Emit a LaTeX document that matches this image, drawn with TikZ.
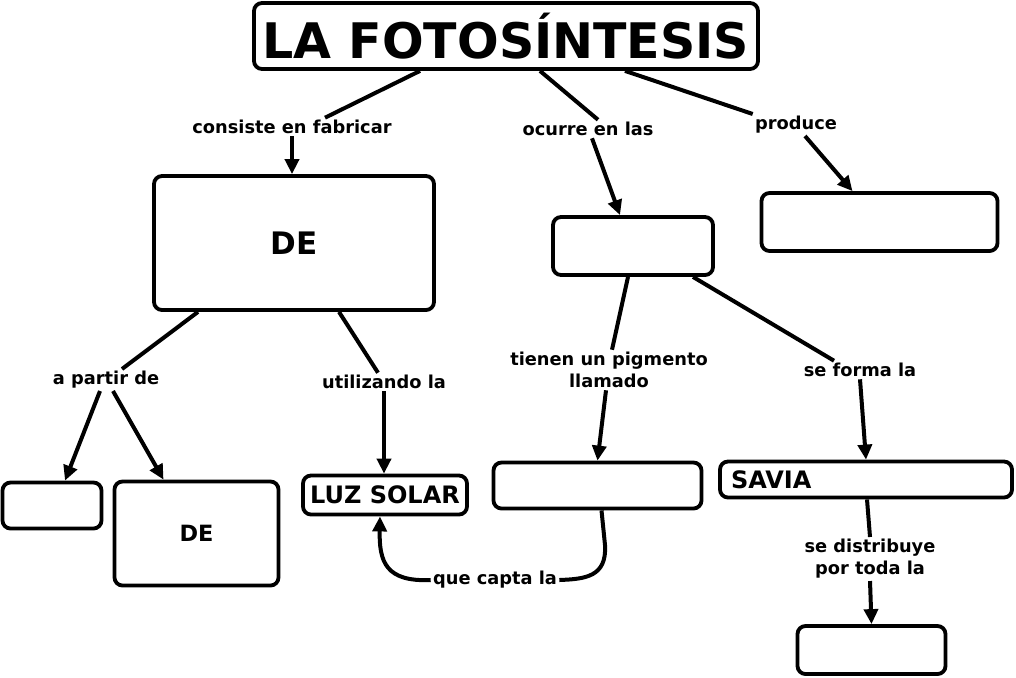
\documentclass[tikz,border=0pt]{standalone}
\usepackage{fontspec}
\setmainfont{DejaVu Sans}
\usetikzlibrary{arrows.meta,calc}

\begin{document}
\begin{tikzpicture}[x=0.5pt,y=-0.5pt,
  caja/.style={draw,line width=1.9pt,rounded corners=4pt,inner sep=0pt,font=\bfseries\fontsize{12}{14}\selectfont},
  enlace/.style={font=\bfseries\fontsize{8.9}{11}\selectfont,inner sep=1pt,align=center},
  linea/.style={line width=2pt},
  flecha/.style={line width=2pt,-{Triangle[length=7.5pt,width=7pt]}}]
\useasboundingbox (0,0) rectangle (1016,677);
% conceptos
\node[caja,minimum width=252pt,minimum height=33pt,font=\bfseries\fontsize{24.5}{28}\selectfont] (titulo) at (506,36) {LA FOTOSÍNTESIS};
\node[caja,minimum width=140pt,minimum height=67pt,font=\bfseries\fontsize{15.5}{18}\selectfont] (de1) at (294,243) {DE};
\node[caja,minimum width=80pt,minimum height=29pt] (hojas) at (633,246) {};
\node[caja,minimum width=118pt,minimum height=29pt] (produce) at (879.5,222) {};
\node[caja,minimum width=49.5pt,minimum height=23pt] (agua) at (52,505.5) {};
\node[caja,minimum width=82pt,minimum height=52pt,font=\bfseries\fontsize{11.2}{13}\selectfont] (de2) at (196.5,533.5) {DE};
\node[caja,minimum width=82pt,minimum height=19.5pt] (luz) at (385,495) {LUZ SOLAR};
\node[caja,minimum width=104pt,minimum height=23pt] (pigmento) at (597.5,485.5) {};
\node[caja,minimum width=146pt,minimum height=18pt,text width=135pt,inner xsep=5.5pt,align=left] (savia) at (866,479.5) {SAVIA};
\node[caja,minimum width=74pt,minimum height=24pt] (planta) at (871.5,650) {};
% enlaces
\node[enlace] (consiste) at (292,127) {consiste en fabricar};
\node[enlace] (ocurre) at (588,129) {ocurre en las};
\node[enlace] (prod) at (796,125) {produce};
\node[enlace] (partir) at (106,380) {a partir de};
\node[enlace] (utiliz) at (384,382) {utilizando la};
\node[enlace] (tienen) at (609,370) {tienen un pigmento\\llamado};
\node[enlace] (forma) at (860,370) {se forma la};
\node[enlace] (capta) at (495,580) {que capta la};
\node[enlace] (distrib) at (870,559) {se distribuye\\por toda la};
% conectores
\draw[linea] ($(titulo.south)+(-86,0)$) -- ($(consiste.north)+(33,0)$);
\draw[flecha] (consiste.south) -- (consiste.south |- de1.north);
\draw[linea] ($(titulo.south)+(34,0)$) -- ($(ocurre.north)+(10,0)$);
\draw[flecha] ($(ocurre.south)+(4,0)$) -- ($(hojas.north)+(-13,0)$);
\draw[linea] ($(titulo.south)+(119,0)$) -- (prod.north west);
\draw[flecha] ($(prod.south)+(9,0)$) -- ($(produce.north)+(-27,0)$);
\draw[linea] ($(de1.south)+(-96,0)$) -- ($(partir.north)+(16,0)$);
\draw[flecha] ($(partir.south)+(-6,0)$) -- ($(agua.north)+(13,0)$);
\draw[flecha] ($(partir.south)+(7,0)$) -- ($(de2.north)+(-33,0)$);
\draw[linea] ($(de1.south)+(45,0)$) -- ($(utiliz.north)+(-6,0)$);
\draw[flecha] (utiliz.south) -- (utiliz.south |- luz.north);
\draw[linea] ($(hojas.south)+(-5,0)$) -- ($(tienen.north)+(3,0)$);
\draw[flecha] ($(tienen.south)+(-3,0)$) -- (pigmento.north);
\draw[linea] ($(hojas.south)+(60,0)$) -- ($(forma.north)+(-26,0)$);
\draw[flecha] (forma.south) -- (savia.north);
\draw[linea] ($(pigmento.south)+(4,0)$) -- (605,545) .. controls (607,577) and (585,579) .. (capta.east);
\draw[flecha] (capta.west) .. controls (386,582) and (379,562) .. ($(luz.south)+(-5,0)$);
\draw[linea] ($(savia.south)+(1,0)$) -- (distrib.north);
\draw[flecha] (distrib.south) -- (planta.north);
\end{tikzpicture}
\end{document}
